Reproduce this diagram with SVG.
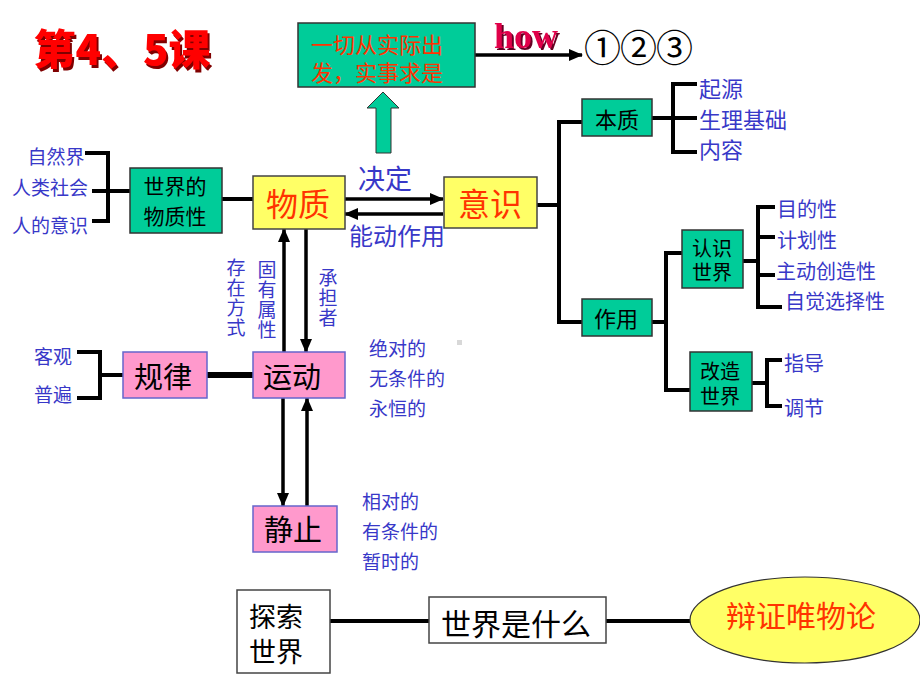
<svg xmlns="http://www.w3.org/2000/svg" width="920" height="690" viewBox="0 0 920 690">
<defs>
<style>
text{font-family:"Noto Sans CJK SC","Liberation Sans",sans-serif;dominant-baseline:central;text-anchor:middle}
.blue{fill:#3838C8;font-size:19px}
.lb{fill:#3838C8;font-size:19px;text-anchor:start}
.vt{fill:#3838C8;font-size:19px;writing-mode:vertical-rl;text-anchor:start;letter-spacing:1px}
.green{fill:#00CC99;stroke:#333;stroke-width:1.5}
.yellow{fill:#FFFF66;stroke:#444;stroke-width:1.5}
.pink{fill:#FF99CC;stroke:#6666CC;stroke-width:1.5}
.white{fill:#fff;stroke:#444;stroke-width:1.5}
.blk{fill:#000}
.red{fill:#FF3300}
.ln{fill:none;stroke:#000;stroke-width:4}
.ar{fill:none;stroke:#000;stroke-width:3.5}
</style>
<marker id="ah" markerUnits="userSpaceOnUse" markerWidth="14" markerHeight="12" refX="13" refY="6" orient="auto">
<path d="M0,0 L14,6 L0,12 Z" fill="#000"/>
</marker>
<filter id="sh1" x="-10%" y="-20%" width="130%" height="150%">
<feDropShadow dx="2" dy="3" stdDeviation="0.3" flood-color="#800000"/>
</filter>
<filter id="sh2" x="-10%" y="-20%" width="130%" height="150%">
<feDropShadow dx="2" dy="2" stdDeviation="0.3" flood-color="#660022"/>
</filter>
</defs>

<!-- title -->
<g id="title">
<text x="122" y="46" filter="url(#sh1)" style="font-size:42px;font-weight:900;fill:#FF0000">第4、5课</text>
</g>

<g id="connectors">
<!-- how arrow -->
<path class="ar" d="M475,55 H582" marker-end="url(#ah)"/>
<!-- 物质性 bracket -->
<path class="ln" d="M85,153 H108 V221 H92"/>
<path class="ln" d="M92,191 H130"/>
<path class="ln" d="M222,199 H253"/>
<!-- 决定 / 能动作用 -->
<path class="ar" d="M345,199 H443" marker-end="url(#ah)"/>
<path class="ar" d="M443,214 H345" marker-end="url(#ah)"/>
<!-- 意识 tree -->
<path class="ln" d="M537,205 H559"/>
<path class="ln" d="M582,122 H559 V322 H582"/>
<path class="ln" d="M652,118 H697"/>
<path class="ln" d="M697,84 H673 V152 H697"/>
<path class="ln" d="M652,322 H666"/>
<path class="ln" d="M683,253 H666 V390 H690"/>
<path class="ln" d="M743,261 H758"/>
<path class="ln" d="M775,207 H758 V307 H782"/>
<path class="ln" d="M758,237 H775 M758,275 H775"/>
<path class="ln" d="M752,383 H767"/>
<path class="ln" d="M782,360 H767 V406 H782"/>
<!-- 规律 bracket -->
<path class="ln" d="M77,352 H100 V398 H77"/>
<path class="ln" d="M100,375 H123"/>
<path class="ln" d="M207,375 H253" style="stroke-width:6"/>
<!-- 物质 / 运动 -->
<path class="ar" d="M284,352 V229" marker-end="url(#ah)"/>
<path class="ar" d="M306,229 V352" marker-end="url(#ah)"/>
<!-- 运动 / 静止 -->
<path class="ar" d="M283,398 V506" marker-end="url(#ah)"/>
<path class="ar" d="M307,506 V398" marker-end="url(#ah)"/>
<!-- bottom -->
<path class="ln" d="M330,621 H429"/>
<path class="ln" d="M606,621 H690"/>
</g>

<g id="shishi">
<rect class="green" x="298" y="23" width="177" height="64"/>
<text class="red" style="font-size:22px"><tspan x="377" y="43">一切从实际出</tspan><tspan x="377" y="71">发，实事求是</tspan></text>
</g>
<g id="how">
<text x="526" y="36" filter="url(#sh2)" style="font-family:'Liberation Serif',serif;font-size:36px;font-weight:bold;fill:#E0004A">how</text>
</g>
<g id="nums"><text x="638" y="46" style="font-size:37px;letter-spacing:-1px;fill:#000">①②③</text></g>

<g id="uparrow">
<path d="M383,92 L399,108 L391,108 L391,153 L376,153 L376,108 L367,108 Z" fill="#00CC99" stroke="#333" stroke-width="1"/>
</g>

<g id="labels-left">
<text class="blue" x="56" y="155">自然界</text>
<text class="blue" x="50" y="186">人类社会</text>
<text class="blue" x="50" y="224">人的意识</text>
</g>

<g id="wuzhixing">
<rect class="green" x="130" y="168" width="92" height="65"/>
<text class="blk" style="font-size:21px"><tspan x="175" y="185">世界的</tspan><tspan x="175" y="215">物质性</tspan></text>
</g>

<g id="wuzhi">
<rect class="yellow" x="253" y="176" width="92" height="53"/>
<text class="red" x="298" y="202" style="font-size:32px">物质</text>
</g>

<g id="jueding"><text x="385" y="177" style="font-size:27px;fill:#3838C8">决定</text></g>
<g id="nengdong"><text x="397" y="234" style="font-size:24px;fill:#3838C8">能动作用</text></g>

<g id="yishi">
<rect class="yellow" x="444" y="177" width="93" height="51"/>
<text class="red" x="490" y="202" style="font-size:32px">意识</text>
</g>

<g id="benzhi">
<rect class="green" x="582" y="99" width="70" height="37"/>
<text class="blk" x="617" y="118" style="font-size:22px">本质</text>
</g>
<g id="benzhi-items">
<text class="lb" x="699" y="87" style="font-size:22px">起源</text>
<text class="lb" x="699" y="118" style="font-size:22px">生理基础</text>
<text class="lb" x="699" y="148" style="font-size:22px">内容</text>
</g>

<g id="zuoyong">
<rect class="green" x="582" y="299" width="70" height="37"/>
<text class="blk" x="616" y="317" style="font-size:22px">作用</text>
</g>

<g id="renshi">
<rect class="green" x="682" y="230" width="61" height="58"/>
<text class="blk" style="font-size:20px"><tspan x="712" y="247">认识</tspan><tspan x="712" y="271">世界</tspan></text>
</g>
<g id="renshi-items">
<text class="lb" x="777" y="208" style="font-size:20px">目的性</text>
<text class="lb" x="777" y="239" style="font-size:20px">计划性</text>
<text class="lb" x="776" y="270" style="font-size:20px">主动创造性</text>
<text class="lb" x="785" y="300" style="font-size:20px">自觉选择性</text>
</g>

<g id="gaizao">
<rect class="green" x="690" y="352" width="62" height="59"/>
<text class="blk" style="font-size:20px"><tspan x="720" y="370">改造</tspan><tspan x="720" y="395">世界</tspan></text>
</g>
<g id="gaizao-items">
<text class="lb" x="784" y="362" style="font-size:20px">指导</text>
<text class="lb" x="784" y="407" style="font-size:20px">调节</text>
</g>

<g id="guilv-items">
<text class="blue" x="53" y="355">客观</text>
<text class="blue" x="53" y="393">普遍</text>
</g>
<g id="guilv">
<rect class="pink" x="123" y="352" width="84" height="46"/>
<text class="blk" x="163" y="375" style="font-size:29px">规律</text>
</g>
<g id="yundong">
<rect class="pink" x="253" y="352" width="92" height="46"/>
<text class="blk" x="292" y="375" style="font-size:29px">运动</text>
</g>

<g id="vlabels">
<text class="vt" x="236" y="258">存在方式</text>
<text class="vt" x="267" y="260">固有属性</text>
<text class="vt" x="328" y="268">承担者</text>
</g>

<g id="yundong-items">
<text class="lb" x="369" y="347">绝对的</text>
<text class="lb" x="369" y="377">无条件的</text>
<text class="lb" x="369" y="407">永恒的</text>
</g>
<rect x="457" y="340" width="5" height="5" fill="#D8D8D8"/>

<g id="jingzhi">
<rect class="pink" x="253" y="506" width="84" height="46"/>
<text class="blk" x="293" y="528" style="font-size:29px">静止</text>
</g>
<g id="jingzhi-items">
<text class="lb" x="362" y="500">相对的</text>
<text class="lb" x="362" y="530">有条件的</text>
<text class="lb" x="362" y="560">暂时的</text>
</g>

<g id="tansuo">
<rect class="white" x="237" y="590" width="93" height="83"/>
<text class="blk" style="font-size:27px"><tspan x="276" y="615">探索</tspan><tspan x="276" y="650">世界</tspan></text>
</g>
<g id="shijie">
<rect class="white" x="429" y="597" width="177" height="46"/>
<text class="blk" x="516" y="622" style="font-size:30px">世界是什么</text>
</g>
<g id="bianzheng">
<ellipse cx="805" cy="620" rx="115" ry="43" fill="#FFFF66" stroke="#333" stroke-width="1.2"/>
<text class="red" x="801" y="614" style="font-size:30px">辩证唯物论</text>
</g>
</svg>
